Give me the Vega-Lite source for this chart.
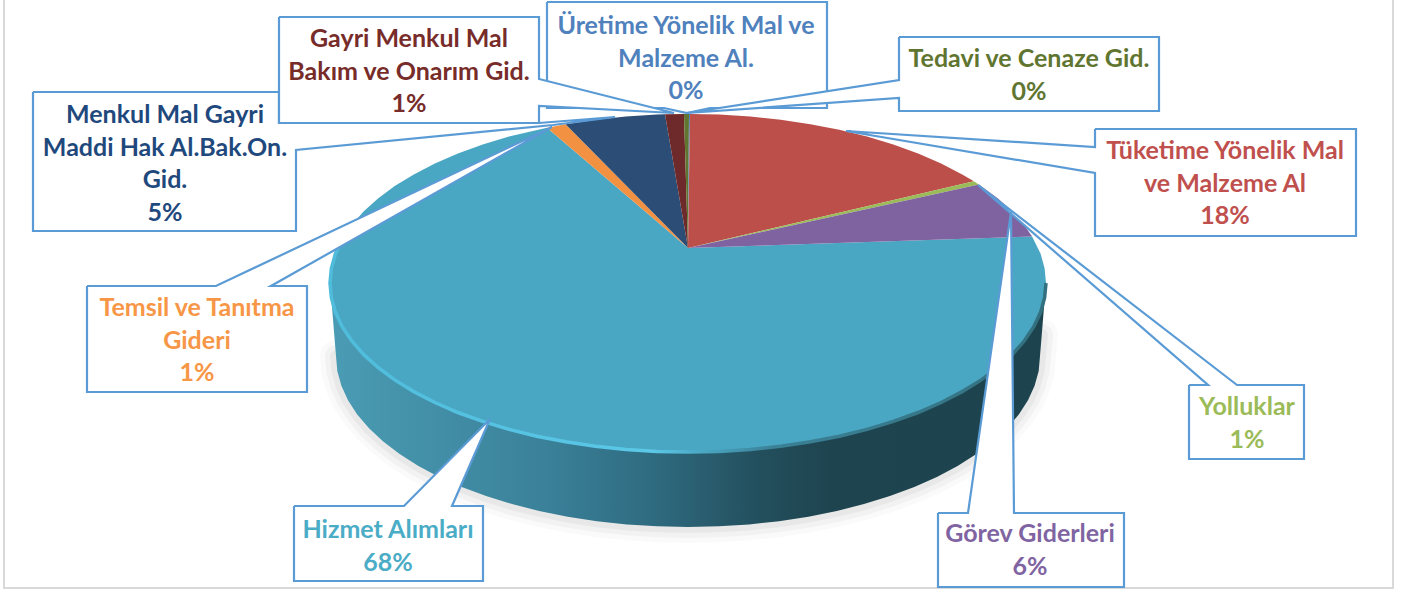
{"$schema":"https://vega.github.io/schema/vega-lite/v6.json","width":1408,"height":592,"autosize":{"type":"none"},"padding":0,"background":"#ffffff","view":{"stroke":null},
"datasets":{
"frame":[{"seq":1,"x":4,"y":0},{"seq":2,"x":4,"y":588},{"seq":3,"x":1393,"y":588},{"seq":4,"x":1393,"y":0}],
"lowerEdge":[{"seq":1,"x":1042,"y":335},{"seq":2,"x":1040,"y":356},{"seq":3,"x":1038.7,"y":370.9},{"seq":4,"x":1034.6,"y":385.7},{"seq":5,"x":1028,"y":400.3},{"seq":6,"x":1018.8,"y":414.5},{"seq":7,"x":1007,"y":428.3},{"seq":8,"x":992.8,"y":441.5},{"seq":9,"x":976.4,"y":454.1},{"seq":10,"x":957.6,"y":465.9},{"seq":11,"x":936.9,"y":476.9},{"seq":12,"x":914.3,"y":487},{"seq":13,"x":889.9,"y":496.1},{"seq":14,"x":864,"y":504.1},{"seq":15,"x":836.8,"y":511},{"seq":16,"x":808.4,"y":516.7},{"seq":17,"x":779.1,"y":521.2},{"seq":18,"x":749.1,"y":524.4},{"seq":19,"x":718.7,"y":526.3},{"seq":20,"x":688,"y":527},{"seq":21,"x":657.3,"y":526.3},{"seq":22,"x":626.9,"y":524.4},{"seq":23,"x":596.9,"y":521.2},{"seq":24,"x":567.6,"y":516.7},{"seq":25,"x":539.2,"y":511},{"seq":26,"x":512,"y":504.1},{"seq":27,"x":486.1,"y":496.1},{"seq":28,"x":461.7,"y":487},{"seq":29,"x":439.1,"y":476.9},{"seq":30,"x":418.4,"y":465.9},{"seq":31,"x":399.6,"y":454.1},{"seq":32,"x":383.2,"y":441.5},{"seq":33,"x":369,"y":428.3},{"seq":34,"x":357.2,"y":414.5},{"seq":35,"x":348,"y":400.3},{"seq":36,"x":341.4,"y":385.7},{"seq":37,"x":337.3,"y":370.9},{"seq":38,"x":336,"y":356}],
"wall":[{"seq":1,"x":330,"y":283},{"seq":2,"x":331.4,"y":297.7},{"seq":3,"x":335.4,"y":312.3},{"seq":4,"x":342.2,"y":326.7},{"seq":5,"x":351.6,"y":340.8},{"seq":6,"x":363.5,"y":354.4},{"seq":7,"x":378,"y":367.5},{"seq":8,"x":394.7,"y":379.9},{"seq":9,"x":413.8,"y":391.6},{"seq":10,"x":434.9,"y":402.5},{"seq":11,"x":457.9,"y":412.5},{"seq":12,"x":482.7,"y":421.4},{"seq":13,"x":509,"y":429.4},{"seq":14,"x":536.7,"y":436.2},{"seq":15,"x":565.6,"y":441.8},{"seq":16,"x":595.3,"y":446.2},{"seq":17,"x":625.8,"y":449.4},{"seq":18,"x":656.8,"y":451.4},{"seq":19,"x":688,"y":452},{"seq":20,"x":719.2,"y":451.4},{"seq":21,"x":750.2,"y":449.4},{"seq":22,"x":780.7,"y":446.2},{"seq":23,"x":810.4,"y":441.8},{"seq":24,"x":839.3,"y":436.2},{"seq":25,"x":867,"y":429.4},{"seq":26,"x":893.3,"y":421.4},{"seq":27,"x":918.1,"y":412.5},{"seq":28,"x":941.1,"y":402.5},{"seq":29,"x":962.2,"y":391.6},{"seq":30,"x":981.3,"y":379.9},{"seq":31,"x":998,"y":367.5},{"seq":32,"x":1012.5,"y":354.4},{"seq":33,"x":1024.4,"y":340.8},{"seq":34,"x":1033.8,"y":326.7},{"seq":35,"x":1040.6,"y":312.3},{"seq":36,"x":1044.6,"y":297.7},{"seq":37,"x":1046,"y":283},{"seq":38,"x":1040,"y":356},{"seq":39,"x":1038.7,"y":370.9},{"seq":40,"x":1034.6,"y":385.7},{"seq":41,"x":1028,"y":400.3},{"seq":42,"x":1018.8,"y":414.5},{"seq":43,"x":1007,"y":428.3},{"seq":44,"x":992.8,"y":441.5},{"seq":45,"x":976.4,"y":454.1},{"seq":46,"x":957.6,"y":465.9},{"seq":47,"x":936.9,"y":476.9},{"seq":48,"x":914.3,"y":487},{"seq":49,"x":889.9,"y":496.1},{"seq":50,"x":864,"y":504.1},{"seq":51,"x":836.8,"y":511},{"seq":52,"x":808.4,"y":516.7},{"seq":53,"x":779.1,"y":521.2},{"seq":54,"x":749.1,"y":524.4},{"seq":55,"x":718.7,"y":526.3},{"seq":56,"x":688,"y":527},{"seq":57,"x":657.3,"y":526.3},{"seq":58,"x":626.9,"y":524.4},{"seq":59,"x":596.9,"y":521.2},{"seq":60,"x":567.6,"y":516.7},{"seq":61,"x":539.2,"y":511},{"seq":62,"x":512,"y":504.1},{"seq":63,"x":486.1,"y":496.1},{"seq":64,"x":461.7,"y":487},{"seq":65,"x":439.1,"y":476.9},{"seq":66,"x":418.4,"y":465.9},{"seq":67,"x":399.6,"y":454.1},{"seq":68,"x":383.2,"y":441.5},{"seq":69,"x":369,"y":428.3},{"seq":70,"x":357.2,"y":414.5},{"seq":71,"x":348,"y":400.3},{"seq":72,"x":341.4,"y":385.7},{"seq":73,"x":337.3,"y":370.9},{"seq":74,"x":336,"y":356}],
"rim":[{"seq":1,"x":342.2,"y":239.3},{"seq":2,"x":335.4,"y":253.7},{"seq":3,"x":331.4,"y":268.3},{"seq":4,"x":330,"y":283},{"seq":5,"x":331.4,"y":297.7},{"seq":6,"x":335.4,"y":312.3},{"seq":7,"x":342.2,"y":326.7},{"seq":8,"x":351.6,"y":340.8},{"seq":9,"x":363.5,"y":354.4},{"seq":10,"x":378,"y":367.5},{"seq":11,"x":394.7,"y":379.9},{"seq":12,"x":413.8,"y":391.6},{"seq":13,"x":434.9,"y":402.5},{"seq":14,"x":457.9,"y":412.5},{"seq":15,"x":482.7,"y":421.4},{"seq":16,"x":509,"y":429.4},{"seq":17,"x":536.7,"y":436.2},{"seq":18,"x":565.6,"y":441.8},{"seq":19,"x":595.3,"y":446.2},{"seq":20,"x":625.8,"y":449.4},{"seq":21,"x":656.8,"y":451.4},{"seq":22,"x":688,"y":452},{"seq":23,"x":719.2,"y":451.4},{"seq":24,"x":750.2,"y":449.4},{"seq":25,"x":780.7,"y":446.2},{"seq":26,"x":810.4,"y":441.8},{"seq":27,"x":839.3,"y":436.2},{"seq":28,"x":867,"y":429.4},{"seq":29,"x":893.3,"y":421.4},{"seq":30,"x":918.1,"y":412.5},{"seq":31,"x":941.1,"y":402.5},{"seq":32,"x":962.2,"y":391.6},{"seq":33,"x":981.3,"y":379.9},{"seq":34,"x":998,"y":367.5},{"seq":35,"x":1012.5,"y":354.4},{"seq":36,"x":1024.4,"y":340.8},{"seq":37,"x":1033.8,"y":326.7},{"seq":38,"x":1040.6,"y":312.3},{"seq":39,"x":1044.6,"y":297.7},{"seq":40,"x":1046,"y":283}],
"slices":[
{"slice":"Hizmet Alımları","seq":1,"x":688,"y":248},{"slice":"Hizmet Alımları","seq":2,"x":1032.1,"y":236.4},{"slice":"Hizmet Alımları","seq":3,"x":1040.6,"y":253.7},{"slice":"Hizmet Alımları","seq":4,"x":1044.6,"y":268.3},{"slice":"Hizmet Alımları","seq":5,"x":1046,"y":283},{"slice":"Hizmet Alımları","seq":6,"x":1044.6,"y":297.7},{"slice":"Hizmet Alımları","seq":7,"x":1040.6,"y":312.3},{"slice":"Hizmet Alımları","seq":8,"x":1033.8,"y":326.7},{"slice":"Hizmet Alımları","seq":9,"x":1024.4,"y":340.8},{"slice":"Hizmet Alımları","seq":10,"x":1012.5,"y":354.4},{"slice":"Hizmet Alımları","seq":11,"x":998,"y":367.5},{"slice":"Hizmet Alımları","seq":12,"x":981.3,"y":379.9},{"slice":"Hizmet Alımları","seq":13,"x":962.2,"y":391.6},{"slice":"Hizmet Alımları","seq":14,"x":941.1,"y":402.5},{"slice":"Hizmet Alımları","seq":15,"x":918.1,"y":412.5},{"slice":"Hizmet Alımları","seq":16,"x":893.3,"y":421.4},{"slice":"Hizmet Alımları","seq":17,"x":867,"y":429.4},{"slice":"Hizmet Alımları","seq":18,"x":839.3,"y":436.2},{"slice":"Hizmet Alımları","seq":19,"x":810.4,"y":441.8},{"slice":"Hizmet Alımları","seq":20,"x":780.7,"y":446.2},{"slice":"Hizmet Alımları","seq":21,"x":750.2,"y":449.4},{"slice":"Hizmet Alımları","seq":22,"x":719.2,"y":451.4},{"slice":"Hizmet Alımları","seq":23,"x":688,"y":452},{"slice":"Hizmet Alımları","seq":24,"x":656.8,"y":451.4},{"slice":"Hizmet Alımları","seq":25,"x":625.8,"y":449.4},{"slice":"Hizmet Alımları","seq":26,"x":595.3,"y":446.2},{"slice":"Hizmet Alımları","seq":27,"x":565.6,"y":441.8},{"slice":"Hizmet Alımları","seq":28,"x":536.7,"y":436.2},{"slice":"Hizmet Alımları","seq":29,"x":509,"y":429.4},{"slice":"Hizmet Alımları","seq":30,"x":482.7,"y":421.4},{"slice":"Hizmet Alımları","seq":31,"x":457.9,"y":412.5},{"slice":"Hizmet Alımları","seq":32,"x":434.9,"y":402.5},{"slice":"Hizmet Alımları","seq":33,"x":413.8,"y":391.6},{"slice":"Hizmet Alımları","seq":34,"x":394.7,"y":379.9},{"slice":"Hizmet Alımları","seq":35,"x":378,"y":367.5},{"slice":"Hizmet Alımları","seq":36,"x":363.5,"y":354.4},{"slice":"Hizmet Alımları","seq":37,"x":351.6,"y":340.8},{"slice":"Hizmet Alımları","seq":38,"x":342.2,"y":326.7},{"slice":"Hizmet Alımları","seq":39,"x":335.4,"y":312.3},{"slice":"Hizmet Alımları","seq":40,"x":331.4,"y":297.7},{"slice":"Hizmet Alımları","seq":41,"x":330,"y":283},{"slice":"Hizmet Alımları","seq":42,"x":331.4,"y":268.3},{"slice":"Hizmet Alımları","seq":43,"x":335.4,"y":253.7},{"slice":"Hizmet Alımları","seq":44,"x":342.2,"y":239.3},{"slice":"Hizmet Alımları","seq":45,"x":351.6,"y":225.2},{"slice":"Hizmet Alımları","seq":46,"x":363.5,"y":211.6},{"slice":"Hizmet Alımları","seq":47,"x":378,"y":198.5},{"slice":"Hizmet Alımları","seq":48,"x":394.7,"y":186.1},{"slice":"Hizmet Alımları","seq":49,"x":413.8,"y":174.4},{"slice":"Hizmet Alımları","seq":50,"x":434.9,"y":163.5},{"slice":"Hizmet Alımları","seq":51,"x":457.9,"y":153.5},{"slice":"Hizmet Alımları","seq":52,"x":482.7,"y":144.6},{"slice":"Hizmet Alımları","seq":53,"x":509,"y":136.6},{"slice":"Hizmet Alımları","seq":54,"x":547,"y":127.8},
{"slice":"Temsil ve Tanıtma Gideri","seq":1,"x":688,"y":248},{"slice":"Temsil ve Tanıtma Gideri","seq":2,"x":547,"y":127.8},{"slice":"Temsil ve Tanıtma Gideri","seq":3,"x":565.6,"y":124.2},
{"slice":"Menkul Mal Gayri Maddi Hak Al.Bak.On. Gid.","seq":1,"x":688,"y":248},{"slice":"Menkul Mal Gayri Maddi Hak Al.Bak.On. Gid.","seq":2,"x":565.6,"y":124.2},{"slice":"Menkul Mal Gayri Maddi Hak Al.Bak.On. Gid.","seq":3,"x":595.3,"y":119.8},{"slice":"Menkul Mal Gayri Maddi Hak Al.Bak.On. Gid.","seq":4,"x":625.8,"y":116.6},{"slice":"Menkul Mal Gayri Maddi Hak Al.Bak.On. Gid.","seq":5,"x":656.8,"y":114.6},{"slice":"Menkul Mal Gayri Maddi Hak Al.Bak.On. Gid.","seq":6,"x":665,"y":114.3},
{"slice":"Gayri Menkul Mal Bakım ve Onarım Gid.","seq":1,"x":688,"y":248},{"slice":"Gayri Menkul Mal Bakım ve Onarım Gid.","seq":2,"x":665,"y":114.3},{"slice":"Gayri Menkul Mal Bakım ve Onarım Gid.","seq":3,"x":684,"y":114},
{"slice":"Tedavi ve Cenaze Gid.","seq":1,"x":688,"y":248},{"slice":"Tedavi ve Cenaze Gid.","seq":2,"x":684,"y":114},{"slice":"Tedavi ve Cenaze Gid.","seq":3,"x":689,"y":114},
{"slice":"Üretime Yönelik Mal ve Malzeme Al.","seq":1,"x":688,"y":248},{"slice":"Üretime Yönelik Mal ve Malzeme Al.","seq":2,"x":689,"y":114},{"slice":"Üretime Yönelik Mal ve Malzeme Al.","seq":3,"x":690,"y":114},
{"slice":"Tüketime Yönelik Mal ve Malzeme Al","seq":1,"x":688,"y":248},{"slice":"Tüketime Yönelik Mal ve Malzeme Al","seq":2,"x":690,"y":114},{"slice":"Tüketime Yönelik Mal ve Malzeme Al","seq":3,"x":719.2,"y":114.6},{"slice":"Tüketime Yönelik Mal ve Malzeme Al","seq":4,"x":750.2,"y":116.6},{"slice":"Tüketime Yönelik Mal ve Malzeme Al","seq":5,"x":780.7,"y":119.8},{"slice":"Tüketime Yönelik Mal ve Malzeme Al","seq":6,"x":810.4,"y":124.2},{"slice":"Tüketime Yönelik Mal ve Malzeme Al","seq":7,"x":839.3,"y":129.8},{"slice":"Tüketime Yönelik Mal ve Malzeme Al","seq":8,"x":867,"y":136.6},{"slice":"Tüketime Yönelik Mal ve Malzeme Al","seq":9,"x":893.3,"y":144.6},{"slice":"Tüketime Yönelik Mal ve Malzeme Al","seq":10,"x":918.1,"y":153.5},{"slice":"Tüketime Yönelik Mal ve Malzeme Al","seq":11,"x":941.1,"y":163.5},{"slice":"Tüketime Yönelik Mal ve Malzeme Al","seq":12,"x":962.2,"y":174.4},{"slice":"Tüketime Yönelik Mal ve Malzeme Al","seq":13,"x":973.9,"y":181.3},
{"slice":"Yolluklar","seq":1,"x":688,"y":248},{"slice":"Yolluklar","seq":2,"x":973.9,"y":181.3},{"slice":"Yolluklar","seq":3,"x":977.6,"y":183.7},{"slice":"Yolluklar","seq":4,"x":979,"y":184.6},
{"slice":"Görev Giderleri","seq":1,"x":688,"y":248},{"slice":"Görev Giderleri","seq":2,"x":979,"y":184.6},{"slice":"Görev Giderleri","seq":3,"x":998,"y":198.5},{"slice":"Görev Giderleri","seq":4,"x":1012.5,"y":211.6},{"slice":"Görev Giderleri","seq":5,"x":1024.4,"y":225.2},{"slice":"Görev Giderleri","seq":6,"x":1032.1,"y":236.4}
],
"callouts":[
{"box":"Menkul","seq":1,"x":33,"y":92},{"box":"Menkul","seq":2,"x":279,"y":92},{"box":"Menkul","seq":3,"x":279,"y":123},{"box":"Menkul","seq":4,"x":539,"y":123},{"box":"Menkul","seq":5,"x":615,"y":117},{"box":"Menkul","seq":6,"x":553,"y":125},{"box":"Menkul","seq":7,"x":296,"y":150},{"box":"Menkul","seq":8,"x":296,"y":231},{"box":"Menkul","seq":9,"x":33,"y":231},{"box":"Menkul","seq":10,"x":33,"y":92},
{"box":"Temsil","seq":1,"x":87,"y":286},{"box":"Temsil","seq":2,"x":216,"y":286},{"box":"Temsil","seq":3,"x":552,"y":127},{"box":"Temsil","seq":4,"x":271,"y":286},{"box":"Temsil","seq":5,"x":307,"y":286},{"box":"Temsil","seq":6,"x":307,"y":392},{"box":"Temsil","seq":7,"x":87,"y":392},{"box":"Temsil","seq":8,"x":87,"y":286},
{"box":"Hizmet","seq":1,"x":294,"y":506},{"box":"Hizmet","seq":2,"x":404,"y":506},{"box":"Hizmet","seq":3,"x":490,"y":419},{"box":"Hizmet","seq":4,"x":452,"y":506},{"box":"Hizmet","seq":5,"x":483,"y":506},{"box":"Hizmet","seq":6,"x":483,"y":581},{"box":"Hizmet","seq":7,"x":294,"y":581},{"box":"Hizmet","seq":8,"x":294,"y":506},
{"box":"Yolluklar","seq":1,"x":1189,"y":385},{"box":"Yolluklar","seq":2,"x":1208,"y":385},{"box":"Yolluklar","seq":3,"x":978,"y":185},{"box":"Yolluklar","seq":4,"x":1237,"y":385},{"box":"Yolluklar","seq":5,"x":1304,"y":385},{"box":"Yolluklar","seq":6,"x":1304,"y":459},{"box":"Yolluklar","seq":7,"x":1189,"y":459},{"box":"Yolluklar","seq":8,"x":1189,"y":385},
{"box":"Gorev","seq":1,"x":938,"y":513},{"box":"Gorev","seq":2,"x":968,"y":513},{"box":"Gorev","seq":3,"x":1011,"y":212},{"box":"Gorev","seq":4,"x":1014,"y":513},{"box":"Gorev","seq":5,"x":1124,"y":513},{"box":"Gorev","seq":6,"x":1124,"y":587},{"box":"Gorev","seq":7,"x":938,"y":587},{"box":"Gorev","seq":8,"x":938,"y":513},
{"box":"Tuketime","seq":1,"x":1095,"y":129},{"box":"Tuketime","seq":2,"x":1356,"y":129},{"box":"Tuketime","seq":3,"x":1356,"y":236},{"box":"Tuketime","seq":4,"x":1095,"y":236},{"box":"Tuketime","seq":5,"x":1095,"y":173},{"box":"Tuketime","seq":6,"x":846,"y":131},{"box":"Tuketime","seq":7,"x":1095,"y":147},{"box":"Tuketime","seq":8,"x":1095,"y":129},
{"box":"Uretime","seq":1,"x":547,"y":2},{"box":"Uretime","seq":2,"x":827,"y":2},{"box":"Uretime","seq":3,"x":827,"y":108},{"box":"Uretime","seq":4,"x":710,"y":108},{"box":"Uretime","seq":5,"x":687,"y":113},{"box":"Uretime","seq":6,"x":664,"y":108},{"box":"Uretime","seq":7,"x":547,"y":108},{"box":"Uretime","seq":8,"x":547,"y":2},
{"box":"Tedavi","seq":1,"x":899,"y":37},{"box":"Tedavi","seq":2,"x":1159,"y":37},{"box":"Tedavi","seq":3,"x":1159,"y":111},{"box":"Tedavi","seq":4,"x":899,"y":111},{"box":"Tedavi","seq":5,"x":899,"y":98},{"box":"Tedavi","seq":6,"x":687,"y":113},{"box":"Tedavi","seq":7,"x":899,"y":80},{"box":"Tedavi","seq":8,"x":899,"y":37},
{"box":"Gayri","seq":1,"x":279,"y":17},{"box":"Gayri","seq":2,"x":539,"y":17},{"box":"Gayri","seq":3,"x":539,"y":79},{"box":"Gayri","seq":4,"x":674,"y":113},{"box":"Gayri","seq":5,"x":539,"y":106},{"box":"Gayri","seq":6,"x":539,"y":123},{"box":"Gayri","seq":7,"x":279,"y":123},{"box":"Gayri","seq":8,"x":279,"y":17}
],
"labels":[
{"slice":"Hizmet Alımları","share":68,"label":"Hizmet Alımları\n68%","x":388,"y":530},
{"slice":"Temsil ve Tanıtma Gideri","share":1,"label":"Temsil ve Tanıtma\nGideri\n1%","x":197,"y":308},
{"slice":"Menkul Mal Gayri Maddi Hak Al.Bak.On. Gid.","share":5,"label":"Menkul Mal Gayri\nMaddi Hak Al.Bak.On.\nGid.\n5%","x":165,"y":115},
{"slice":"Gayri Menkul Mal Bakım ve Onarım Gid.","share":1,"label":"Gayri Menkul Mal\nBakım ve Onarım Gid.\n1%","x":409,"y":39},
{"slice":"Üretime Yönelik Mal ve Malzeme Al.","share":0,"label":"Üretime Yönelik Mal ve\nMalzeme Al.\n0%","x":686,"y":26},
{"slice":"Tedavi ve Cenaze Gid.","share":0,"label":"Tedavi ve Cenaze Gid.\n0%","x":1029,"y":59},
{"slice":"Tüketime Yönelik Mal ve Malzeme Al","share":18,"label":"Tüketime Yönelik Mal\nve Malzeme Al\n18%","x":1225,"y":151},
{"slice":"Yolluklar","share":1,"label":"Yolluklar\n1%","x":1247,"y":407},
{"slice":"Görev Giderleri","share":6,"label":"Görev Giderleri\n6%","x":1030,"y":534}
]},
"encoding":{
"x":{"field":"x","type":"quantitative","scale":{"domain":[0,1408],"nice":false,"zero":false},"axis":null},
"y":{"field":"y","type":"quantitative","scale":{"domain":[592,0],"nice":false,"zero":false},"axis":null},
"order":{"field":"seq","type":"quantitative"}},
"layer":[
{"data":{"name":"frame"},"mark":{"type":"line","stroke":"#d9d9d9","strokeWidth":2}},
{"data":{"name":"lowerEdge"},"mark":{"type":"line","stroke":"#000000","strokeWidth":32,"opacity":0.02,"strokeCap":"round"}},
{"data":{"name":"lowerEdge"},"mark":{"type":"line","stroke":"#000000","strokeWidth":22,"opacity":0.03,"strokeCap":"round"}},
{"data":{"name":"lowerEdge"},"mark":{"type":"line","stroke":"#000000","strokeWidth":12,"opacity":0.04,"strokeCap":"round"}},
{"data":{"name":"wall"},"mark":{"type":"line","strokeWidth":0,"fill":{"gradient":"linear","x1":0,"y1":0,"x2":1,"y2":0,"stops":[{"offset":0,"color":"#4a9cb4"},{"offset":0.3,"color":"#3a8199"},{"offset":0.45,"color":"#2f6b80"},{"offset":0.6,"color":"#234f5d"},{"offset":0.7,"color":"#1e444f"},{"offset":1,"color":"#1d434e"}]}}},
{"data":{"name":"slices"},"mark":{"type":"line","strokeWidth":0},"encoding":{"detail":{"field":"slice"},"fill":{"field":"slice","type":"nominal","legend":null,"scale":{"domain":["Hizmet Alımları","Temsil ve Tanıtma Gideri","Menkul Mal Gayri Maddi Hak Al.Bak.On. Gid.","Gayri Menkul Mal Bakım ve Onarım Gid.","Tedavi ve Cenaze Gid.","Üretime Yönelik Mal ve Malzeme Al.","Tüketime Yönelik Mal ve Malzeme Al","Yolluklar","Görev Giderleri"],"range":["#4aa7c3","#f39143","#2c4d75","#6e2a2a","#5f7530","#4f81bd","#bc4f4a","#9bbb59","#7f62a0"]}}}},
{"data":{"name":"rim"},"mark":{"type":"line","strokeWidth":3.5,"stroke":{"gradient":"linear","x1":0,"y1":0,"x2":1,"y2":0,"stops":[{"offset":0,"color":"#4fbcdc"},{"offset":0.45,"color":"#5cc8e8"},{"offset":0.52,"color":"#4aa7c3"},{"offset":0.62,"color":"#3a8196"},{"offset":1,"color":"#33707f"}]}}},
{"data":{"name":"callouts"},"mark":{"type":"line","fill":"#ffffff","stroke":"#5b9bd5","strokeWidth":2.2,"strokeJoin":"miter"},"encoding":{"detail":{"field":"box"}}},
{"data":{"name":"labels"},"mark":{"type":"text","font":"Lato","fontWeight":"bold","fontSize":25,"lineHeight":32.5,"lineBreak":"\n","align":"center","baseline":"middle"},"encoding":{"text":{"field":"label"},"order":null,"color":{"field":"slice","type":"nominal","legend":null,"scale":{"domain":["Hizmet Alımları","Temsil ve Tanıtma Gideri","Menkul Mal Gayri Maddi Hak Al.Bak.On. Gid.","Gayri Menkul Mal Bakım ve Onarım Gid.","Tedavi ve Cenaze Gid.","Üretime Yönelik Mal ve Malzeme Al.","Tüketime Yönelik Mal ve Malzeme Al","Yolluklar","Görev Giderleri"],"range":["#4bacc6","#f79646","#1f497d","#772c2a","#5f7530","#4f81bd","#c0504d","#9bbb59","#8064a2"]}}}}
]}
